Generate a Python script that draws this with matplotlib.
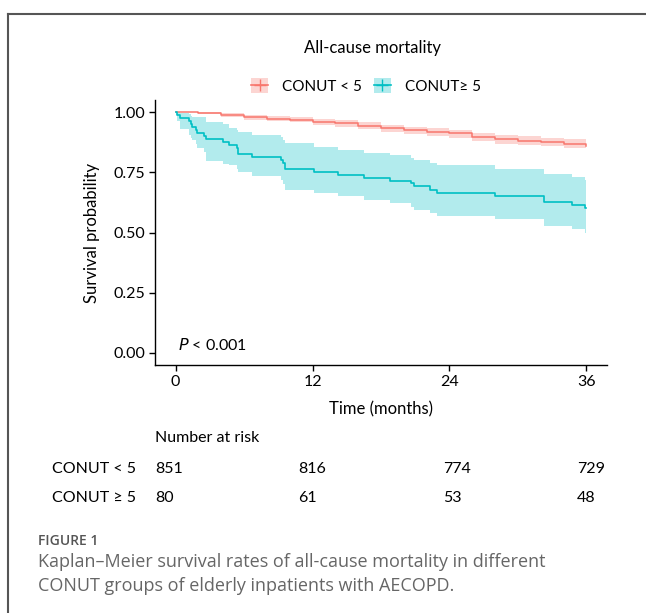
import matplotlib
matplotlib.use("Agg")
import matplotlib.pyplot as plt
from matplotlib.patches import Patch
from matplotlib.lines import Line2D
from matplotlib.legend_handler import HandlerTuple

# CONUT < 5 (read every 2 months)
low_t = [0, 2, 4, 6, 8, 10, 12, 14, 16, 18, 20, 22, 24, 26, 28, 30, 32, 34, 36]
low_s = [1.000, 0.995, 0.988, 0.978, 0.972, 0.968, 0.960, 0.953, 0.944, 0.933,
         0.924, 0.917, 0.911, 0.896, 0.887, 0.881, 0.876, 0.869, 0.858]
low_hi = [1.000, 0.999, 0.995, 0.987, 0.982, 0.979, 0.972, 0.966, 0.958, 0.948,
          0.939, 0.933, 0.927, 0.913, 0.905, 0.899, 0.894, 0.887, 0.877]
low_lo = [1.000, 0.991, 0.981, 0.969, 0.962, 0.957, 0.948, 0.940, 0.930, 0.918,
          0.908, 0.900, 0.894, 0.878, 0.869, 0.862, 0.857, 0.850, 0.838]

# CONUT >= 5 (event times)
high_t = [0, 0.15, 0.35, 1.2, 1.35, 1.46, 1.75, 1.9, 2.48, 2.63, 4.2, 4.67, 5.4, 5.5,
          6.7, 9.2, 9.4, 9.6, 12.1, 14.2, 16.5, 18.8, 20.6, 20.9, 22.3, 22.9, 28.0,
          32.3, 34.7, 35.9, 36.0]
high_s = [1.000, 0.988, 0.975, 0.962, 0.950, 0.938, 0.925, 0.912, 0.900, 0.887,
          0.875, 0.862, 0.850, 0.825, 0.812, 0.800, 0.787, 0.765, 0.751, 0.740,
          0.728, 0.714, 0.705, 0.692, 0.678, 0.664, 0.651, 0.626, 0.615, 0.600, 0.600]
high_lo = [1.000, 0.963, 0.928, 0.905, 0.893, 0.883, 0.866, 0.850, 0.835, 0.795,
           0.785, 0.779, 0.763, 0.751, 0.735, 0.720, 0.700, 0.675, 0.664, 0.650,
           0.636, 0.622, 0.605, 0.594, 0.580, 0.568, 0.554, 0.529, 0.515, 0.500, 0.500]
high_hi = [1.000, 1.000, 0.998, 0.990, 0.984, 0.980, 0.980, 0.980, 0.980, 0.960,
           0.949, 0.935, 0.925, 0.918, 0.904, 0.895, 0.885, 0.870, 0.856, 0.842,
           0.832, 0.821, 0.811, 0.800, 0.789, 0.779, 0.765, 0.742, 0.730, 0.717, 0.717]

risk_times = ["0", "12", "24", "36"]
risk_low = [851, 816, 774, 729]
risk_high = [80, 61, 53, 48]

RED = "#F8766D"
TEAL = "#00BFC4"
W, H = 646, 613

plt.rcParams["font.family"] = ["Lato", "DejaVu Sans"]
fig = plt.figure(figsize=(W / 100, H / 100), dpi=100)


def fx(px):
    return px / W


def fy(py):
    return 1 - py / H


ax = fig.add_axes([fx(155), fy(365), fx(607) - fx(155), fy(100) - fy(365)])

ax.fill_between(low_t, low_lo, low_hi, step="post", color=RED, alpha=0.3, lw=0)
ax.step(low_t, low_s, where="post", color=RED, lw=1.1)
ax.fill_between(high_t, high_lo, high_hi, step="post", color=TEAL, alpha=0.3, lw=0)
ax.step(high_t, high_s, where="post", color=TEAL, lw=1.2)

ax.set_xlim(-1.8, 37.8)
ax.set_ylim(-0.05, 1.05)
ax.set_xticks([0, 12, 24, 36])
ax.set_xticklabels(risk_times)
ax.set_yticks([0, 0.25, 0.5, 0.75, 1.0])
ax.set_yticklabels(["0.00", "0.25", "0.50", "0.75", "1.00"])
for s in ["top", "right"]:
    ax.spines[s].set_visible(False)
for s in ["left", "bottom"]:
    ax.spines[s].set_linewidth(1.0)
ax.tick_params(direction="out", length=4, width=1, labelsize=11.5, colors="black", pad=3)
ax.set_ylabel("Survival probability", fontsize=12, labelpad=10)
ax.set_xlabel("Time (months)", fontsize=12, labelpad=9)
ax.text(0.2, 0.0, "$P$ < 0.001", fontsize=11.5, va="bottom", ha="left")

fig.text(fx(372), fy(48), "All-cause mortality", fontsize=12, ha="center", va="center")

handles = [
    (Patch(facecolor=RED, alpha=0.3, lw=0), Line2D([], [], color=RED, marker="+", lw=1.2, markersize=8)),
    (Patch(facecolor=TEAL, alpha=0.3, lw=0), Line2D([], [], color=TEAL, marker="+", lw=1.2, markersize=8)),
]
fig.legend(handles, ["CONUT < 5", "CONUT\u2265 5"], loc="center",
           bbox_to_anchor=(fx(366), fy(86)), ncol=2, frameon=False, fontsize=11,
           handler_map={tuple: HandlerTuple(ndivide=1, pad=0)},
           handlelength=1.1, handleheight=1.1, columnspacing=0.8, handletextpad=0.9)

# number at risk table
fig.text(fx(155), fy(438), "Number at risk", fontsize=11.5, va="center")
cols = [155, 298, 443, 577]
fig.text(fx(52), fy(469), "CONUT < 5", fontsize=11.5, va="center")
fig.text(fx(52), fy(498), "CONUT \u2265 5", fontsize=11.5, va="center")
for c, a, b in zip(cols, risk_low, risk_high):
    fig.text(fx(c), fy(469), str(a), fontsize=11.5, va="center")
    fig.text(fx(c), fy(498), str(b), fontsize=11.5, va="center")

# caption
fig.text(fx(38), fy(541), "FIGURE 1", fontsize=10, color="#555555", va="center",
         family=["Open Sans", "DejaVu Sans"], weight="semibold")
fig.text(fx(38), fy(562), "Kaplan\u2013Meier survival rates of all-cause mortality in different",
         fontsize=13, color="#666666", va="center", family=["Open Sans", "DejaVu Sans"])
fig.text(fx(38), fy(586), "CONUT groups of elderly inpatients with AECOPD.",
         fontsize=13, color="#666666", va="center", family=["Open Sans", "DejaVu Sans"])

# frame
fig.add_artist(Line2D([fx(8), fx(8)], [fy(14), 0], color="#555555", lw=1.5))
fig.add_artist(Line2D([fx(8), 1], [fy(14), fy(14)], color="#555555", lw=1.5))

fig.savefig("out.png", dpi=100)
